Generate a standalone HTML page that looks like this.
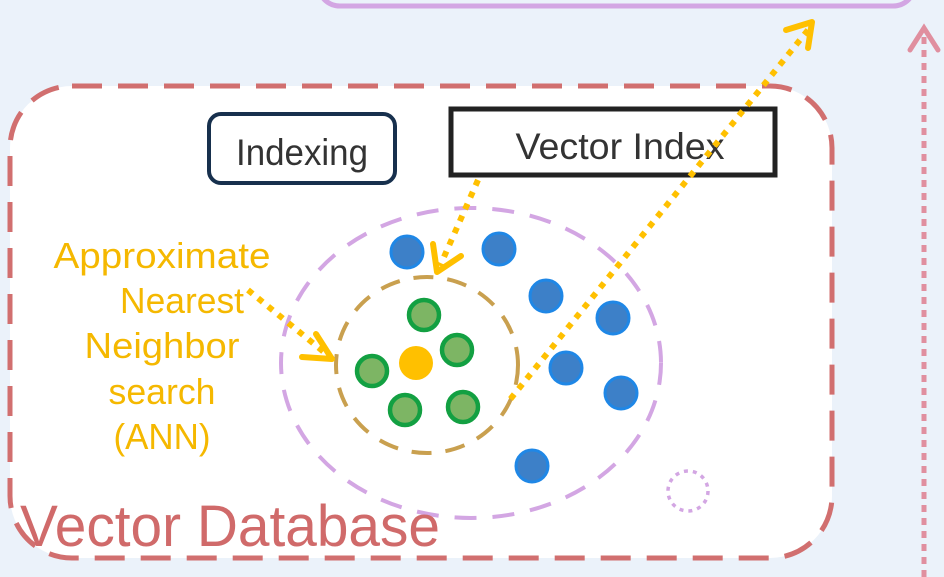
<!DOCTYPE html>
<html><head><style>
html,body{margin:0;padding:0;background:#ebf2fa;}
svg{display:block;font-family:"Liberation Sans",Arial,sans-serif;}
</style></head><body>
<svg width="944" height="577" viewBox="0 0 944 577">
<rect width="944" height="577" fill="#ebf2fa"/>
<rect x="318" y="-60" width="597" height="66" rx="22" fill="none" stroke="#d3a6e3" stroke-width="5"/>
<rect x="10" y="86" width="822" height="472" rx="62" fill="#fff" stroke="#d16f6f" stroke-width="5" stroke-dasharray="30 16"/>
<line x1="924" y1="577" x2="924" y2="36" stroke="#e08f9f" stroke-width="5" stroke-dasharray="7 6"/>
<polyline points="910,50 924,28 938,50" fill="none" stroke="#e08f9f" stroke-width="5" stroke-linecap="round"/>
<rect x="209" y="114" width="186" height="69" rx="12" fill="#fff" stroke="#17304d" stroke-width="4"/>
<text x="302" y="165" font-size="37" text-anchor="middle" fill="#333" textLength="132" lengthAdjust="spacingAndGlyphs">Indexing</text>
<rect x="451" y="109" width="324" height="66" fill="#fff" stroke="#222" stroke-width="5"/>
<text x="620" y="159" font-size="37" text-anchor="middle" fill="#333" textLength="209" lengthAdjust="spacingAndGlyphs">Vector Index</text>
<ellipse cx="471" cy="363" rx="190" ry="155" fill="none" stroke="#d3a6e3" stroke-width="4" stroke-dasharray="22 16"/>
<ellipse cx="427" cy="365" rx="91" ry="88" fill="none" stroke="#c9a04f" stroke-width="4" stroke-dasharray="20 14"/>
<circle cx="688" cy="491" r="20" fill="none" stroke="#d3a6e3" stroke-width="3.5" stroke-dasharray="4 5"/>
<g fill="#3d80c8" stroke="#1f87e6" stroke-width="3">
<circle cx="407" cy="252" r="16"/><circle cx="499" cy="249" r="16"/><circle cx="546" cy="296" r="16"/>
<circle cx="613" cy="318" r="16"/><circle cx="566" cy="368" r="16"/><circle cx="621" cy="393" r="16"/><circle cx="532" cy="466" r="16"/>
</g>
<g fill="#7db564" stroke="#13a042" stroke-width="4.5">
<circle cx="424" cy="315" r="15"/><circle cx="457" cy="350" r="15"/><circle cx="372" cy="371" r="15"/>
<circle cx="405" cy="410" r="15"/><circle cx="463" cy="407" r="15"/>
</g>
<circle cx="416" cy="363" r="17" fill="#ffc000"/>
<g stroke="#ffc000" stroke-width="6" fill="none" stroke-dasharray="6 7">
<line x1="808" y1="30" x2="508" y2="402"/>
<line x1="478" y1="180" x2="440" y2="266"/>
<line x1="248" y1="290" x2="330" y2="357"/>
</g>
<g stroke="#ffc000" stroke-width="6" fill="none" stroke-linecap="round" stroke-linejoin="round">
<polyline points="786,30 812,22 808,48"/>
<polyline points="433,244 437,272 461,256"/>
<polyline points="316,334 332,359 302,357"/>
</g>
<g font-size="36" fill="#f5b800" text-anchor="middle">
<text x="162" y="268" textLength="217" lengthAdjust="spacingAndGlyphs">Approximate</text>
<text x="182" y="313" textLength="124" lengthAdjust="spacingAndGlyphs">Nearest</text>
<text x="162" y="358" textLength="155" lengthAdjust="spacingAndGlyphs">Neighbor</text>
<text x="162" y="404" textLength="107" lengthAdjust="spacingAndGlyphs">search</text>
<text x="162" y="449" textLength="97" lengthAdjust="spacingAndGlyphs">(ANN)</text>
</g>
<text x="20" y="546" font-size="58" fill="#d06a6a" textLength="420" lengthAdjust="spacingAndGlyphs">Vector Database</text>
</svg>
</body></html>
